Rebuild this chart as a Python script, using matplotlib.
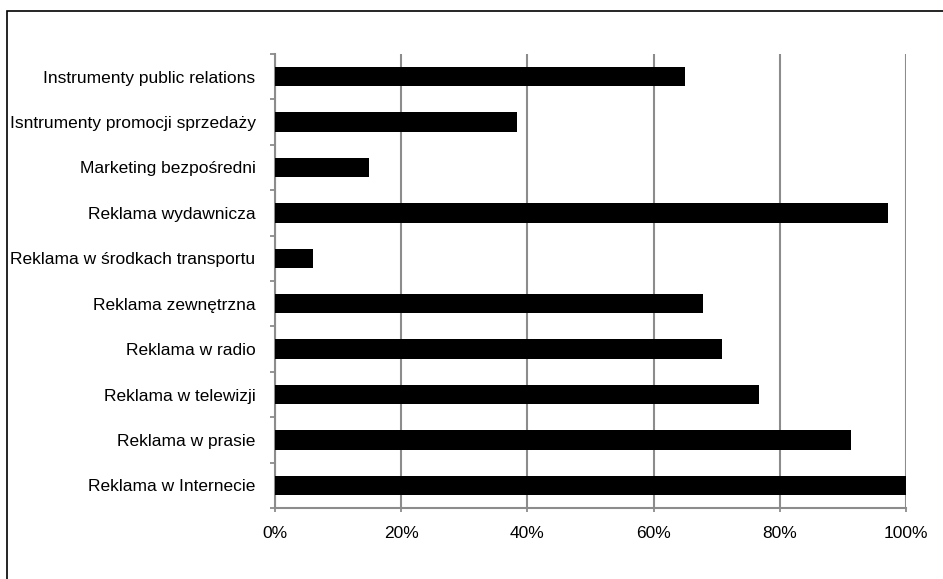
import matplotlib
matplotlib.use("Agg")
import matplotlib.pyplot as plt
from matplotlib.ticker import FixedLocator, PercentFormatter
from matplotlib.patches import Rectangle

# categories listed bottom -> top
categories = [
    "Reklama w Internecie",
    "Reklama w prasie",
    "Reklama w telewizji",
    "Reklama w radio",
    "Reklama zewnętrzna",
    "Reklama w środkach transportu",
    "Reklama wydawnicza",
    "Marketing bezpośredni",
    "Isntrumenty promocji sprzedaży",
    "Instrumenty public relations",
]
shares = [100.0, 91.3, 76.7, 70.8, 67.8, 6.1, 97.2, 14.9, 38.4, 64.9]
x_ticks = [0, 20, 40, 60, 80, 100]

plt.rcParams['font.family'] = ['Liberation Sans Narrow', 'Liberation Sans', 'DejaVu Sans']
grey = "#8c8c8c"
fsize = 12.5

W, H = 943, 579
fig = plt.figure(figsize=(W / 100, H / 100), dpi=100)
ax = fig.add_axes([275 / W, (H - 508) / H, (906 - 275) / W, (508 - 54) / H])

pos = list(range(len(categories)))
ax.barh(pos, shares, height=0.43, color="black", zorder=3)

ax.set_xlim(0, 100)
ax.set_ylim(-0.5, len(categories) - 0.5)
ax.xaxis.set_major_locator(FixedLocator(x_ticks))
ax.xaxis.set_major_formatter(PercentFormatter(decimals=0))
ax.grid(axis="x", color=grey, linewidth=1.5, zorder=0)

ax.set_yticks(pos)
ax.set_yticklabels(categories)
ax.yaxis.set_minor_locator(FixedLocator([p - 0.5 for p in pos] + [len(categories) - 0.5]))
ax.tick_params(axis="y", which="major", length=0, pad=14, labelsize=fsize)
ax.tick_params(axis="y", which="minor", length=3.6, width=1.3, color=grey)
ax.tick_params(axis="x", which="major", length=3, width=1.3, color=grey, pad=10, labelsize=fsize)

for side in ["top", "right"]:
    ax.spines[side].set_visible(False)
for side in ["left", "bottom"]:
    ax.spines[side].set_color(grey)
    ax.spines[side].set_linewidth(1.5)

# outer chart border (only top/left visible in the crop)
fig.patches.append(Rectangle((7 / W, -0.1), 1.2, (H - 11) / H + 0.1,
                             transform=fig.transFigure, fill=False,
                             edgecolor="black", linewidth=1.2))

fig.savefig("out.png", dpi=100)
